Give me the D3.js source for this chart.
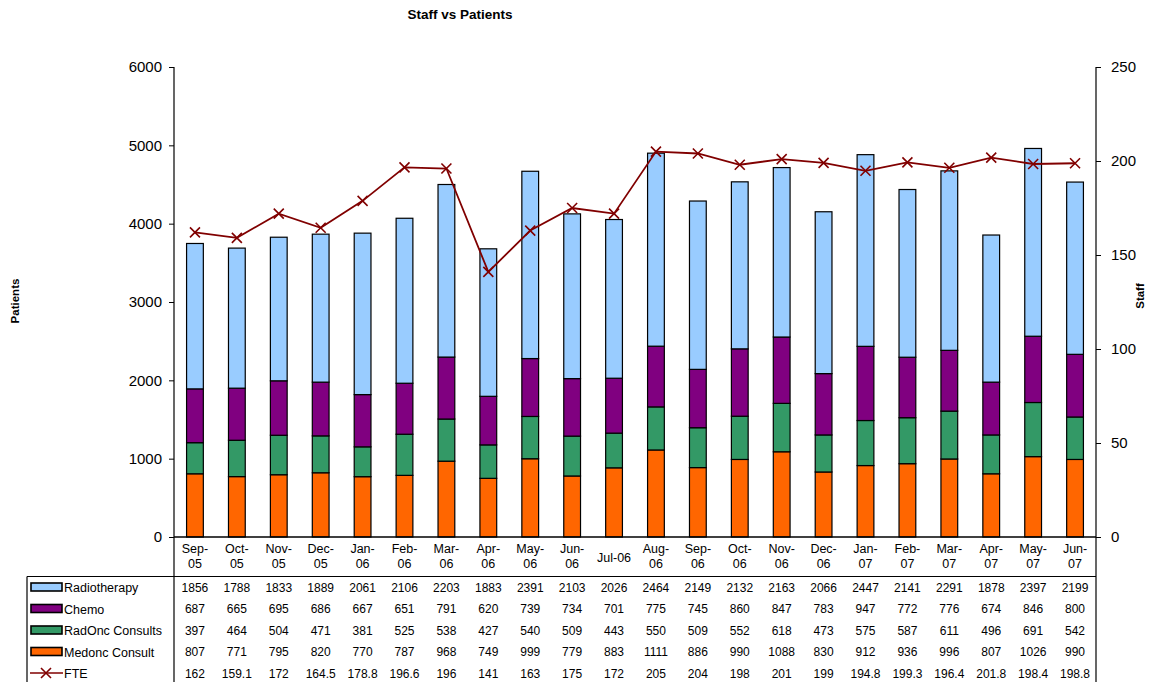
<!DOCTYPE html>
<html><head><meta charset="utf-8">
<script src="https://cdn.jsdelivr.net/npm/d3@7"></script>
<style>
html,body{margin:0;padding:0;background:#fff;}
text{font-family:"Liberation Sans",Arial,sans-serif;fill:#000;}
</style></head>
<body><svg id="c" width="1152" height="682"></svg>
<script>
const categories = ["Sep-05","Oct-05","Nov-05","Dec-05","Jan-06","Feb-06","Mar-06","Apr-06","May-06","Jun-06","Jul-06","Aug-06","Sep-06","Oct-06","Nov-06","Dec-06","Jan-07","Feb-07","Mar-07","Apr-07","May-07","Jun-07"];
const medonc = [807,771,795,820,770,787,968,749,999,779,883,1111,886,990,1088,830,912,936,996,807,1026,990];
const radonc = [397,464,504,471,381,525,538,427,540,509,443,550,509,552,618,473,575,587,611,496,691,542];
const chemo = [687,665,695,686,667,651,791,620,739,734,701,775,745,860,847,783,947,772,776,674,846,800];
const radiotherapy = [1856,1788,1833,1889,2061,2106,2203,1883,2391,2103,2026,2464,2149,2132,2163,2066,2447,2141,2291,1878,2397,2199];
const fte = [162,159.1,172,164.5,178.8,196.6,196,141,163,175,172,205,204,198,201,199,194.8,199.3,196.4,201.8,198.4,198.8];
const leftTicks = [0,1000,2000,3000,4000,5000,6000];
const rightTicks = [0,50,100,150,200,250];

const seriesNames = ["Medonc Consult","RadOnc Consults","Chemo","Radiotherapy"];
const seriesColors = ["#FF6600","#339966","#800080","#99CCFF"];
const seriesData = [medonc, radonc, chemo, radiotherapy];

const svg = d3.select("#c");
const L = 174, R = 1096, T = 67, B = 537;

const x = d3.scaleBand().domain(categories).range([L, R]).paddingInner(0.6).paddingOuter(0.3);
const xc = d3.scaleBand().domain(categories).range([L, R]).padding(0);
const yL = d3.scaleLinear().domain([0, 6000]).range([B, T]);
const yR = d3.scaleLinear().domain([0, 250]).range([B, T]);

// title
svg.append("text").attr("x", 460).attr("y", 19).attr("text-anchor","middle")
  .style("font-size","13.5px").style("font-weight","bold").text("Staff vs Patients");

// axis titles
svg.append("text").attr("transform","translate(19,301) rotate(-90)").attr("text-anchor","middle")
  .style("font-size","11.5px").style("font-weight","bold").text("Patients");
svg.append("text").attr("transform","translate(1144,296) rotate(-90)").attr("text-anchor","middle")
  .style("font-size","11.5px").style("font-weight","bold").text("Staff");

// stacked bars
const rows = categories.map((c,i)=>{ const o={cat:c}; seriesNames.forEach((s,k)=>o[s]=seriesData[k][i]); return o; });
const stack = d3.stack().keys(seriesNames)(rows);
stack.forEach((layer,k)=>{
  svg.append("g").selectAll("rect").data(layer).join("rect")
    .attr("x", d=>x(d.data.cat))
    .attr("width", x.bandwidth())
    .attr("y", d=>yL(d[1]))
    .attr("height", d=>yL(d[0])-yL(d[1]))
    .attr("fill", seriesColors[k])
    .attr("stroke","#000").attr("stroke-width",1.2);
});

// left axis
const gl = svg.append("g").attr("transform",`translate(${L},0)`)
  .call(d3.axisLeft(yL).tickValues(leftTicks).tickSize(5).tickPadding(7).tickFormat(d3.format("d")));
gl.select(".domain").remove();
gl.selectAll("line").attr("stroke","#000");
gl.selectAll("text").style("font-size","15px").style("font-family","Liberation Sans, Arial, sans-serif");

// right axis
const gr = svg.append("g").attr("transform",`translate(${R},0)`)
  .call(d3.axisRight(yR).tickValues(rightTicks).tickSize(5).tickPadding(10).tickFormat(d3.format("d")));
gr.select(".domain").remove();
gr.selectAll("line").attr("stroke","#000");
gr.selectAll("text").style("font-size","15px").style("font-family","Liberation Sans, Arial, sans-serif");

// axis lines (extend into data table)
svg.append("line").attr("x1",L).attr("x2",L).attr("y1",T).attr("y2",682).attr("stroke","#000").attr("stroke-width",1.2);
svg.append("line").attr("x1",R).attr("x2",R).attr("y1",T).attr("y2",682).attr("stroke","#000").attr("stroke-width",1.2);
svg.append("line").attr("x1",L).attr("x2",R).attr("y1",B).attr("y2",B).attr("stroke","#000").attr("stroke-width",1.5);

// FTE line
const line = d3.line().x((d,i)=>xc(categories[i])+xc.bandwidth()/2).y(d=>yR(d));
svg.append("path").datum(fte).attr("d",line).attr("fill","none").attr("stroke","#800000").attr("stroke-width",1.8);
const mk = 5;
svg.append("g").selectAll("path").data(fte).join("path")
  .attr("d",(d,i)=>{const cx=xc(categories[i])+xc.bandwidth()/2, cy=yR(d);
    return `M${cx-mk},${cy-mk}L${cx+mk},${cy+mk}M${cx-mk},${cy+mk}L${cx+mk},${cy-mk}`;})
  .attr("stroke","#800000").attr("stroke-width",1.6).attr("fill","none");

// category labels
const cl = svg.append("g");
categories.forEach((c)=>{
  const cx = xc(c)+xc.bandwidth()/2;
  const parts = c.split("-");
  if (c === "Jul-06") {
    cl.append("text").attr("x",cx).attr("y",562).attr("text-anchor","middle").style("font-size","12.5px").text(c);
  } else {
    cl.append("text").attr("x",cx).attr("y",553).attr("text-anchor","middle").style("font-size","12.5px").text(parts[0]+"-");
    cl.append("text").attr("x",cx).attr("y",568).attr("text-anchor","middle").style("font-size","12.5px").text(parts[1]);
  }
});

// data table
svg.append("line").attr("x1",27).attr("x2",R).attr("y1",576.5).attr("y2",576.5).attr("stroke","#000").attr("stroke-width",1.2);
svg.append("line").attr("x1",27).attr("x2",27).attr("y1",576.5).attr("y2",682).attr("stroke","#000").attr("stroke-width",1.2);

const tableRows = [
  {name:"Radiotherapy", vals:radiotherapy, color:"#99CCFF", type:"bar"},
  {name:"Chemo", vals:chemo, color:"#800080", type:"bar"},
  {name:"RadOnc Consults", vals:radonc, color:"#339966", type:"bar"},
  {name:"Medonc Consult", vals:medonc, color:"#FF6600", type:"bar"},
  {name:"FTE", vals:fte, color:"#800000", type:"line"}
];
const rowY = d3.scalePoint().domain(tableRows.map(r=>r.name)).range([587, 673]);
const tg = svg.append("g");
tableRows.forEach(r=>{
  const cy = rowY(r.name);
  if (r.type==="bar") {
    tg.append("rect").attr("x",31).attr("y",cy-4).attr("width",31).attr("height",8)
      .attr("fill",r.color).attr("stroke","#000").attr("stroke-width",1.6);
  } else {
    tg.append("line").attr("x1",30).attr("x2",63).attr("y1",cy).attr("y2",cy).attr("stroke",r.color).attr("stroke-width",1.6);
    tg.append("path").attr("d",`M${46-5},${cy-5}L${46+5},${cy+5}M${46-5},${cy+5}L${46+5},${cy-5}`)
      .attr("stroke",r.color).attr("stroke-width",1.6);
  }
  tg.append("text").attr("x",64).attr("y",cy+5).style("font-size","12.5px").text(r.name);
  r.vals.forEach((v,i)=>{
    const cx = xc(categories[i])+xc.bandwidth()/2;
    tg.append("text").attr("x",cx).attr("y",cy+4.5).attr("text-anchor","middle").style("font-size","12px").text(v);
  });
});
</script></body></html>
